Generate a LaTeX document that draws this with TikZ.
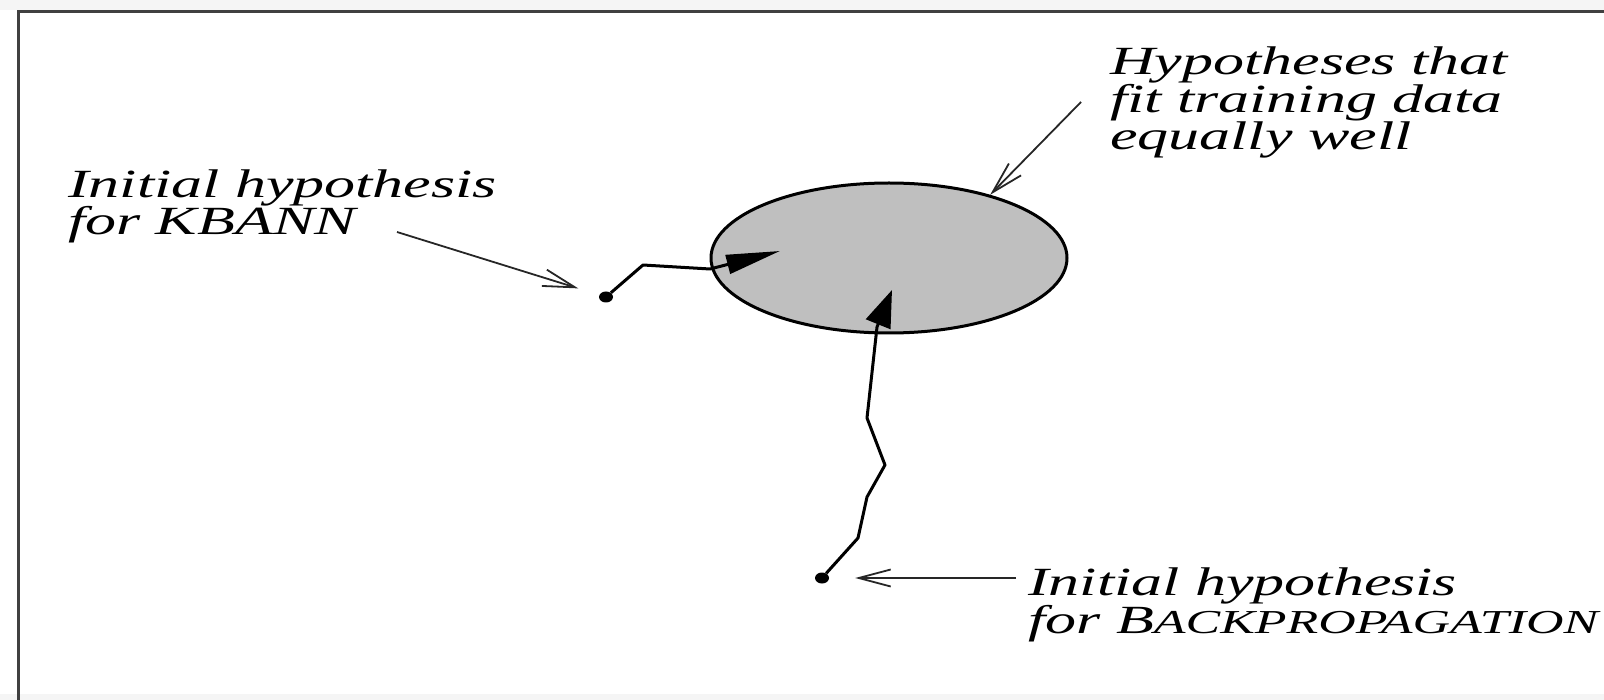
\documentclass[tikz,border=0pt]{standalone}
\usepackage{fontspec}
\setmainfont{Liberation Serif}[FakeStretch=1.55]
\usetikzlibrary{arrows.meta,shapes.geometric}

\begin{document}
\begin{tikzpicture}[x=1pt,y=-1pt,
		lbl/.style={anchor=base west,inner sep=0pt,align=left,font=\fontsize{40}{36}\selectfont\itshape},
		walk/.style={line width=3pt,line join=round},
		pointer/.style={line width=1.8pt,black!85,-{Straight Barb[length=32pt,width=17pt]}},
		spot/.style={ellipse,fill=black,inner sep=0pt,minimum width=14pt,minimum height=11pt}]
	\useasboundingbox (0,0) rectangle (1604,700);
	\fill[black!4] (0,0) rectangle (1604,10);
	\fill[black!4] (0,694) rectangle (1604,700);
	\draw[line width=3pt,black!75] (18,700) -- (18,12) -- (1604,12);
	\node[ellipse,draw,line width=3pt,fill=black!25,minimum width=356pt,minimum height=150pt,inner sep=0pt] (fit) at (889,258) {};
	\node[lbl] (hyplbl) at (1110,150) {Hypotheses that\\fit training data\\equally well};
	\node[lbl] (kblbl) at (68,235) {Initial hypothesis\\for KBANN};
	\node[lbl] (bplbl) at (1028,633) {Initial hypothesis\\for B{\fontsize{33.5}{36}\selectfont ACKPROPAGATION}};
	\node[spot] (kbdot) at (606,297) {};
	\node[spot] (bpdot) at (822,578) {};
	\coordinate (kb1) at (643,265);
	\coordinate (kb2) at (710,269);
	\coordinate (kbtip) at (780,251);
	\coordinate (bp1) at (858,538);
	\coordinate (bp2) at (867,497);
	\coordinate (bp3) at (885,465);
	\coordinate (bp4) at (867,418);
	\coordinate (bp5) at (877,327);
	\coordinate (bptip) at (892,290);
	\coordinate (hyptail) at (1081,102);
	\coordinate (kbtail) at (397,232);
	\coordinate (bptail) at (1016,578);
	\draw[walk,-{Triangle[length=54pt,width=19pt]}] (kbdot) -- (kb1) -- (kb2) -- (kbtip);
	\draw[walk,-{Triangle[length=37pt,width=26pt]}] (bpdot) -- (bp1) -- (bp2) -- (bp3) -- (bp4) -- (bp5) -- (bptip);
	\draw[pointer] (hyptail) -- (fit.32);
	\draw[pointer,shorten >=22pt] (kbtail) -- (kbdot);
	\draw[pointer,shorten >=26pt] (bptail) -- (bpdot);
\end{tikzpicture}
\end{document}
